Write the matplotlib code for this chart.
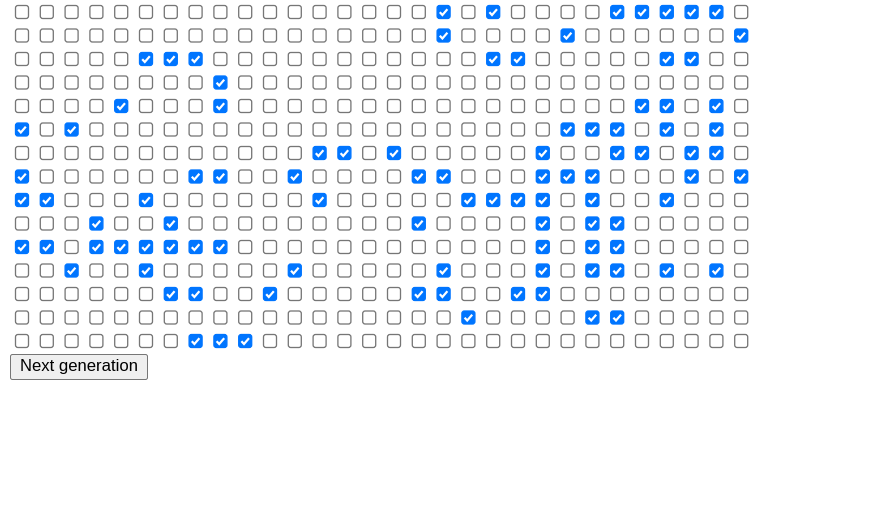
import matplotlib.pyplot as plt
from matplotlib.patches import FancyBboxPatch

n_cols = 30
n_rows = 15
# checked column indices, one list per row
checked = [
    [17, 19, 24, 25, 26, 27, 28],
    [17, 22, 29],
    [5, 6, 7, 19, 20, 26, 27],
    [8],
    [4, 8, 25, 26, 28],
    [0, 2, 22, 23, 24, 26, 28],
    [12, 13, 15, 21, 24, 25, 27, 28],
    [0, 7, 8, 11, 16, 17, 21, 22, 23, 27, 29],
    [0, 1, 5, 12, 18, 19, 20, 21, 23, 26],
    [3, 6, 16, 21, 23, 24],
    [0, 1, 3, 4, 5, 6, 7, 8, 21, 23, 24],
    [2, 5, 11, 17, 21, 23, 24, 26, 28],
    [6, 7, 10, 16, 17, 20, 21],
    [18, 23, 24],
    [7, 8, 9],
]
button_label = "Next generation"

fig = plt.figure(figsize=(8.74, 5.31), dpi=100)
ax = fig.add_axes([0, 0, 1, 1])
ax.set_xlim(0, 874)
ax.set_ylim(531, 0)
ax.axis("off")

s = 13
px = 0.72
for r in range(n_rows):
    for c in range(n_cols):
        x = 22 + 24.8 * c
        y = 12 + 23.5 * r
        on = c in checked[r]
        box = FancyBboxPatch((x - s / 2, y - s / 2), s, s,
                             boxstyle="round,pad=0,rounding_size=2.5",
                             fc="#0075ff" if on else "white",
                             ec="#0075ff" if on else "#767676",
                             lw=1.3 * px)
        ax.add_patch(box)
        if on:
            ax.plot([x - 3.8, x - 1.2, x + 3.8], [y + 0.2, y + 3, y - 2.8],
                    color="white", lw=2.2 * px, solid_capstyle="butt",
                    solid_joinstyle="miter")

btn = FancyBboxPatch((10.5, 354.5), 137, 25,
                     boxstyle="round,pad=0,rounding_size=2",
                     fc="#efefef", ec="#767676", lw=1 * px)
ax.add_patch(btn)
ax.text(79, 367, button_label, ha="center", va="center",
        fontsize=12, family="Liberation Sans", color="black")

fig.savefig("out.png", dpi=100)
